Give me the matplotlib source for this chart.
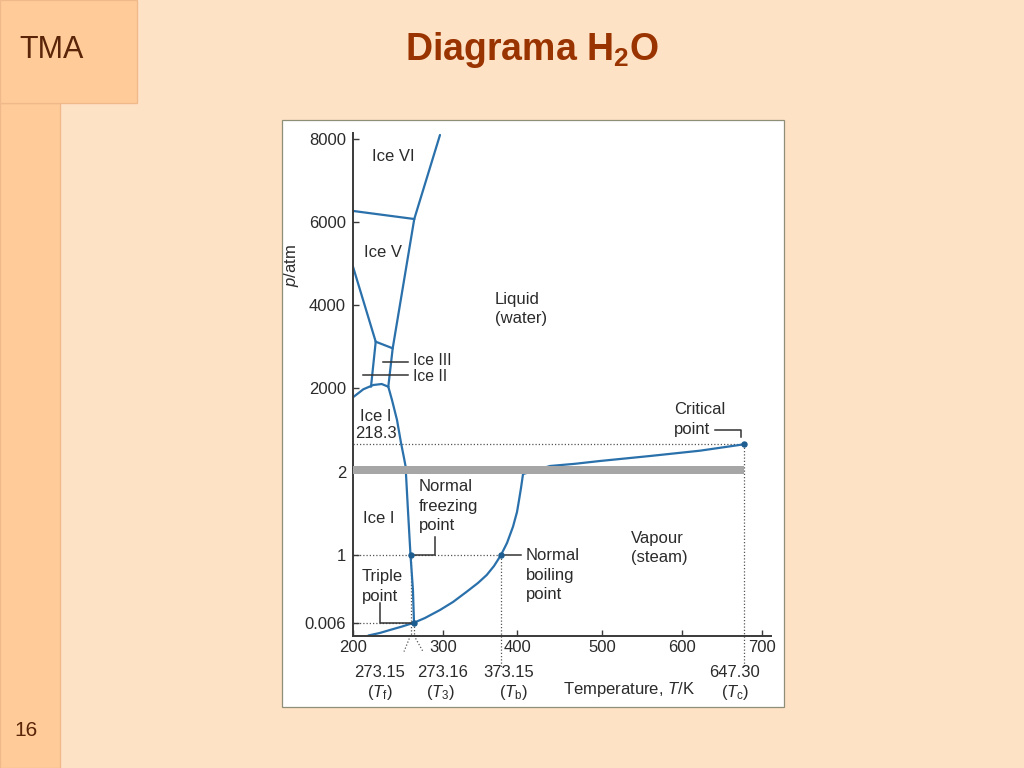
import numpy as np
import matplotlib
matplotlib.use('Agg')
import matplotlib.pyplot as plt
from matplotlib.patches import Rectangle

plt.rcParams['font.family'] = ['Liberation Sans', 'DejaVu Sans']
plt.rcParams['mathtext.fontset'] = 'custom'
plt.rcParams['mathtext.rm'] = 'Liberation Sans'
plt.rcParams['mathtext.it'] = 'Liberation Sans:italic'
plt.rcParams['mathtext.bf'] = 'Liberation Sans:bold'

ice6_liq_T = [297.2, 273.4]
ice6_liq_p = [8100, 6065]
ice5_ice6_T = [200, 273.4]
ice5_ice6_p = [6260, 6065]
ice5_liq_T = [273.4, 250.5, 244.9]
ice5_liq_p = [6065, 2960, 2038]
ice2_ice5_T = [200, 228.9]
ice2_ice5_p = [4920, 3119]
ice3_ice5_T = [228.9, 250.5]
ice3_ice5_p = [3119, 2960]
ice2_ice3_T = [228.9, 222.9]
ice2_ice3_p = [3119, 2038]
ice1_dome_T = [200, 213.1, 225.8, 236.5, 244.9]
ice1_dome_p = [1714, 1968, 2079, 2103, 2038]
ice1_liq_T = [244.9, 249.6, 256.0, 261.1, 264.9, 266.8, 267.4, 269.9, 273.15, 273.157, 273.16]
ice1_liq_p = [2038, 1628, 991, 260, 110, 47.0, 1.972, 1.54, 1.0, 0.486, 0.006]
subl_T = [219.5, 234.3, 247.1, 262.3, 273.16]
subl_p = [0.0, 0.0012, 0.0026, 0.0042, 0.006]
vap_T = [273.16, 283.3, 297.2, 312.6, 329.9, 344.1, 355.1, 364.3, 373.15, 383.2, 393.3,
         400.0, 402.4, 404.7, 407.1, 438.8, 468.2, 497.6, 560.0, 613.7, 647.3]
vap_p = [0.006, 0.075, 0.1925, 0.310, 0.461, 0.589, 0.706, 0.838, 1.0, 1.144, 1.340,
         1.516, 1.660, 1.804, 1.972, 47.0, 64.4, 86.5, 125.9, 167.8, 218.3]

# special points
pts_T = [273.15, 273.16, 373.15, 647.3]
pts_p = [1.0, 0.006, 1.0, 218.3]
pts_lab = ['273.15', '273.16', '373.15', '647.30']
pts_sym = [r'($T_\mathrm{f}$)', r'($T_\mathrm{3}$)', r'($T_\mathrm{b}$)', r'($T_\mathrm{c}$)']
lab_T = [234.3, 300.0, 386.6, 639.7]
sym_T = [234.3, 298.2, 395.0, 640.5]

x_ticks = [200, 300, 400, 500, 600, 700]
y_ticks = [0.006, 1, 2, 2000, 4000, 6000, 8000]
y_ticklabels = ['0.006', '1', '2', '2000', '4000', '6000', '8000']
band = (1.97, 49.4)

# broken piecewise axes as drawn in the original figure
T_KNOTS = np.array([200, 273.15, 273.16, 300, 373.15, 400, 500, 600, 647.3, 700, 711])
T_POS = np.array([0, 57.5, 61, 90, 148, 164, 249, 329, 391, 409, 418])
P_KNOTS = np.array([0, 0.006, 1, 2, 218.3, 2000, 4000, 6000, 8000, 8150])
P_POS = np.array([0, 12.8, 80.5, 163.8, 191.2, 247.2, 330.5, 413.8, 496.5, 502.5])


def t_fwd(t):
    return np.interp(t, T_KNOTS, T_POS)


def t_inv(v):
    return np.interp(v, T_POS, T_KNOTS)


def p_fwd(p):
    return np.interp(p, P_KNOTS, P_POS)


def p_inv(v):
    return np.interp(v, P_POS, P_KNOTS)


BLUE = '#2a70ab'
INK = '#2b2b2b'
FS = 12

fig = plt.figure(figsize=(10.24, 7.68), dpi=100, facecolor='#fee2c6')

# slide decoration
bg = fig.add_axes([0, 0, 1, 1], zorder=0)
bg.set_xlim(0, 1024)
bg.set_ylim(768, 0)
bg.axis('off')
bg.add_patch(Rectangle((0, 103), 60, 665, facecolor='#ffcc99', edgecolor='#f0b98a', lw=1))
bg.add_patch(Rectangle((0, 0), 137, 103, facecolor='#ffcc99', edgecolor='#f0b98a', lw=1))
bg.add_patch(Rectangle((282, 120), 502, 587, facecolor='white', edgecolor='#8f8f78', lw=0.9))
bg.text(52, 50, 'TMA', fontsize=22, color='#5a2408', ha='center', va='center')
bg.text(26, 731, '16', fontsize=15, color='#5a2408', ha='center', va='center')
bg.text(532, 50, r'Diagrama H$_\mathbf{2}$O', fontsize=27, fontweight='bold',
        color='#993300', ha='center', va='center')

ax = fig.add_axes([353 / 1024, 132.5 / 768, 418 / 1024, 502.5 / 768], zorder=1)
ax.set_xscale('function', functions=(t_fwd, t_inv))
ax.set_yscale('function', functions=(p_fwd, p_inv))
ax.set_xlim(200, 711)
ax.set_ylim(0, 8150)
ax.patch.set_alpha(0)

for s in ['top', 'right']:
    ax.spines[s].set_visible(False)
for s in ['left', 'bottom']:
    ax.spines[s].set_linewidth(1.4)
    ax.spines[s].set_color('#3a3a3a')

ax.set_xticks(x_ticks)
ax.set_xticklabels([str(v) for v in x_ticks])
ax.set_yticks(y_ticks)
ax.set_yticklabels(y_ticklabels)
ax.minorticks_off()
ax.tick_params(direction='in', length=4.5, width=1, colors='#3a3a3a',
               labelcolor=INK, labelsize=FS)
ax.tick_params(axis='x', pad=3)
ax.tick_params(axis='y', pad=5)
ax.set_ylabel('$p$/atm', fontsize=FS, color=INK)
ax.yaxis.set_label_coords(-0.124, 0.737)

# phase boundaries
curves = [(ice6_liq_T, ice6_liq_p), (ice5_ice6_T, ice5_ice6_p), (ice5_liq_T, ice5_liq_p),
          (ice2_ice5_T, ice2_ice5_p), (ice3_ice5_T, ice3_ice5_p), (ice2_ice3_T, ice2_ice3_p),
          (ice1_dome_T, ice1_dome_p), (ice1_liq_T, ice1_liq_p), (subl_T, subl_p),
          (vap_T, vap_p)]
for cx, cy in curves:
    ax.plot(cx, cy, color=BLUE, lw=1.6, zorder=2, solid_capstyle='round')

# axis break band
ax.fill_between([200, 647.3], band[0], band[1], color='#a6a6a6', lw=0, zorder=3)

# dotted guide lines
dot = dict(color='#555555', lw=0.9, ls=(0, (1, 1.6)), zorder=1)
ax.plot([200, 647.3], [218.3, 218.3], **dot)
ax.plot([200, 373.15], [1, 1], **dot)
ax.plot([200, 273.16], [0.006, 0.006], **dot)
for t, p in zip(pts_T, pts_p):
    ax.plot([t, t], [p, 0], **dot)
blend = ax.get_xaxis_transform()
ax.plot([273.15, 264.9], [0, -0.032], transform=blend, clip_on=False, **dot)
ax.plot([273.16, 281.5], [0, -0.032], transform=blend, clip_on=False, **dot)
ax.plot([373.15, 373.15], [0, -0.062], transform=blend, clip_on=False, **dot)
ax.plot([647.3, 647.3], [0, -0.062], transform=blend, clip_on=False, **dot)

ax.plot(pts_T, pts_p, 'o', ms=3.6, color='#1d5d8f', zorder=5)

# pointer lines
lk = dict(color='#333333', lw=1.1, zorder=4)
ax.plot([237.8, 270.3], [2624, 2624], **lk)
ax.plot([213.1, 270.3], [2319, 2319], **lk)
ax.plot([273.15, 292.6, 292.6], [1, 1, 1.22], **lk)
ax.plot([273.16, 234.3, 234.3], [0.006, 0.006, 0.30], **lk)
ax.plot([373.15, 404.7], [1, 1], **lk)
ax.plot([625.2, 645.0, 645.0], [673, 673, 441], **lk)

# region and point labels
tk = dict(fontsize=FS, color=INK, va='center', linespacing=1.38)
ax.text(250.9, 7565, 'Ice VI', ha='center', **tk)
ax.text(238.2, 5250, 'Ice V', ha='center', **tk)
ax.text(365.6, 3904, 'Liquid\n(water)', ha='left', **tk)
ax.annotate('Ice III', (270.3, 2624), xytext=(3.5, 1.6), textcoords='offset points',
            ha='left', va='center', fontsize=11.3, color=INK)
ax.annotate('Ice II', (270.3, 2319), xytext=(3.5, -1.3), textcoords='offset points',
            ha='left', va='center', fontsize=11.3, color=INK)
ax.text(229.3, 1103, 'Ice I', ha='center', **tk)
ax.text(229.3, 562, '218.3', ha='center', **tk)
ax.text(590.0, 1007, 'Critical\npoint', ha='left', **tk)
ax.text(233.1, 1.444, 'Ice I', ha='center', **tk)
ax.text(277.8, 1.588, 'Normal\nfreezing\npoint', ha='left', **tk)
ax.text(536.3, 1.084, 'Vapour\n(steam)', ha='left', **tk)
ax.text(410.6, 0.706, 'Normal\nboiling\npoint', ha='left', **tk)
ax.text(211.4, 0.535, 'Triple\npoint', ha='left', **tk)

for t, s in zip(lab_T, pts_lab):
    ax.annotate(s, (t, 0), xycoords=('data', 'axes fraction'), xytext=(0, -26.3),
                textcoords='offset points', ha='center', va='center', fontsize=FS, color=INK)
for t, s in zip(sym_T, pts_sym):
    ax.annotate(s, (t, 0), xycoords=('data', 'axes fraction'), xytext=(0, -41.4),
                textcoords='offset points', ha='center', va='center', fontsize=FS, color=INK)
ax.annotate('Temperature, $T$/K', (533.8, 0), xycoords=('data', 'axes fraction'),
            xytext=(0, -39.2), textcoords='offset points', ha='center', va='center',
            fontsize=FS, color=INK)

fig.savefig('out.png', dpi=100, facecolor=fig.get_facecolor())
